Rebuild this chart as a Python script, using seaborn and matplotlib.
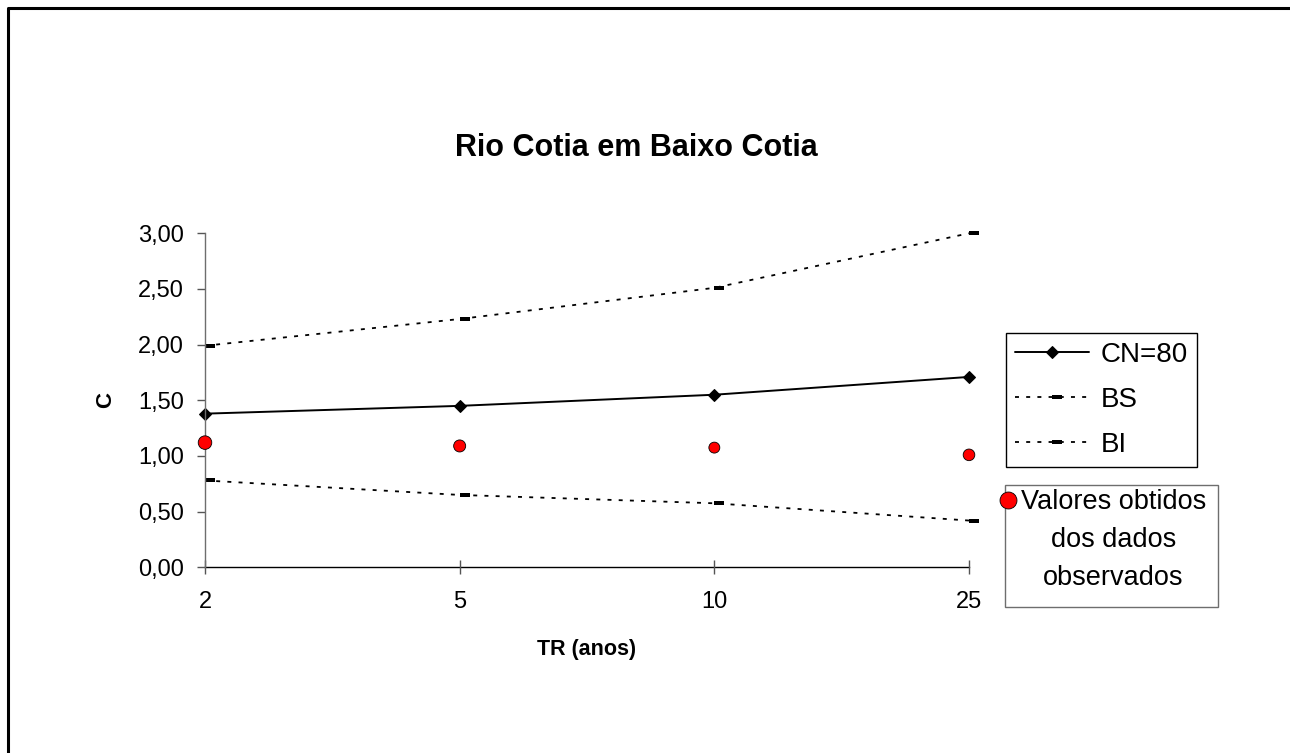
import numpy as np
import pandas as pd
import matplotlib
matplotlib.use("Agg")
import matplotlib.pyplot as plt
from matplotlib.lines import Line2D
from matplotlib.patches import Rectangle
from matplotlib.ticker import FuncFormatter, FixedLocator
import seaborn as sns

# Return periods (years) and runoff coefficient C
tr_labels = ["2", "5", "10", "25"]
cn80 = [1.38, 1.45, 1.55, 1.71]
bs = [1.99, 2.23, 2.51, 3.00]
bi = [0.78, 0.65, 0.575, 0.42]
observados = [1.12, 1.09, 1.075, 1.01]

sns.set_theme(style="white")
plt.rcParams["font.family"] = ["Liberation Sans", "DejaVu Sans"]
plt.rcParams["text.color"] = "black"

DPI = 100
fig = plt.figure(figsize=(12.9, 7.53), dpi=DPI)
fig.patch.set_facecolor("white")

W, H = 1290, 753
def fx(px):
    return px / W
def fy(py):
    return 1 - py / H

ax = fig.add_axes([fx(205), fy(567.3), fx(969) - fx(205), fy(233.3) - fy(567.3)])
ax.set_facecolor("white")

pos = np.arange(len(tr_labels))
df = pd.DataFrame({"pos": pos, "CN=80": cn80, "BS": bs, "BI": bi, "obs": observados})

# horizontal dash marker anchored on the left, like a spreadsheet dash marker
dash_marker = [(0, -0.45), (2, -0.45), (2, 0.45), (0, 0.45), (0, -0.45)]
dotted = (0, (2.2, 4.0))

sns.lineplot(data=df, x="pos", y="CN=80", ax=ax, color="black", lw=1.4,
             marker="D", markersize=6.2, markeredgecolor="black", label="CN=80")
sns.lineplot(data=df, x="pos", y="BS", ax=ax, color="black", lw=1.3,
             linestyle=dotted, marker=dash_marker, markersize=14,
             markeredgewidth=0, label="BS")
sns.lineplot(data=df, x="pos", y="BI", ax=ax, color="black", lw=1.3,
             linestyle=dotted, marker=dash_marker, markersize=14,
             markeredgewidth=0, label="BI")

obs_marker_area = [95, 75, 62, 70]
sns.scatterplot(data=df, x="pos", y="obs", ax=ax, color="#ff0000",
                edgecolor="black", linewidth=0.6, s=obs_marker_area,
                zorder=5, legend=False)

for art in ax.lines + ax.collections:
    art.set_clip_on(False)

ax.set_xlim(pos[0], pos[-1])
ax.set_ylim(0, 3)
ax.xaxis.set_major_locator(FixedLocator(pos))
ax.set_xticklabels(tr_labels)
ax.yaxis.set_major_locator(FixedLocator(np.arange(0, 3.01, 0.5)))
ax.yaxis.set_major_formatter(FuncFormatter(lambda v, _: f"{v:.2f}".replace(".", ",")))
ax.set_xlabel("")
ax.set_ylabel("")

for s in ["top", "right"]:
    ax.spines[s].set_visible(False)
ax.spines["bottom"].set_color("black")
ax.spines["bottom"].set_linewidth(1.0)
ax.spines["left"].set_color("#6e6e6e")
ax.spines["left"].set_linewidth(1.0)
ax.spines["bottom"].set_zorder(0.5)

ax.tick_params(axis="x", direction="inout", length=10, width=1.0, color="#555555",
               pad=12, labelsize=17, labelcolor="black", bottom=True)
ax.tick_params(axis="y", direction="out", length=6, width=1.0, color="#555555",
               pad=9, labelsize=17, labelcolor="black", left=True)
ax.grid(False)

# Title and axis labels
fig.text(fx(636.5), fy(148), "Rio Cotia em Baixo Cotia", ha="center", va="center",
         fontsize=22, fontweight="bold", color="black")
fig.text(fx(586.5), fy(650), "TR (anos)", ha="center", va="center",
         fontsize=15.5, fontweight="bold", color="black")
fig.text(fx(106), fy(400), "C", ha="center", va="center", rotation=90,
         fontsize=16, fontweight="bold", color="black")

# Series legend
leg = ax.legend(loc="upper left", bbox_to_anchor=(fx(1006), fy(333)),
                bbox_transform=fig.transFigure, borderaxespad=0, frameon=True,
                fancybox=False, edgecolor="black", fontsize=20, numpoints=1,
                handlelength=2.66, handletextpad=0.43, labelspacing=0.68,
                borderpad=0.33, framealpha=1, labelcolor="black")
leg.get_frame().set_linewidth(1.0)

# Box describing the observed values
fig.add_artist(Rectangle((fx(1004.5), fy(607)), fx(1217.5) - fx(1004.5), fy(485) - fy(607),
                         transform=fig.transFigure, facecolor="white",
                         edgecolor="#6e6e6e", linewidth=1.0))
fig.add_artist(Line2D([fx(1007.5)], [fy(500)], transform=fig.transFigure,
                      marker="o", markersize=12.2, markerfacecolor="#ff0000",
                      markeredgecolor="black", markeredgewidth=0.6, linestyle="none"))
fig.text(fx(1113.5), fy(540), "Valores obtidos\ndos dados\nobservados", ha="center",
         va="center", multialignment="center", fontsize=19.5, linespacing=1.62,
         color="black")

# Chart area border (top and left edges)
fig.add_artist(Line2D([fx(8), fx(8), 1.0], [0.0, fy(8), fy(8)],
                      transform=fig.transFigure, color="black", linewidth=2.2))

fig.savefig("out.png", dpi=DPI, facecolor="white")
